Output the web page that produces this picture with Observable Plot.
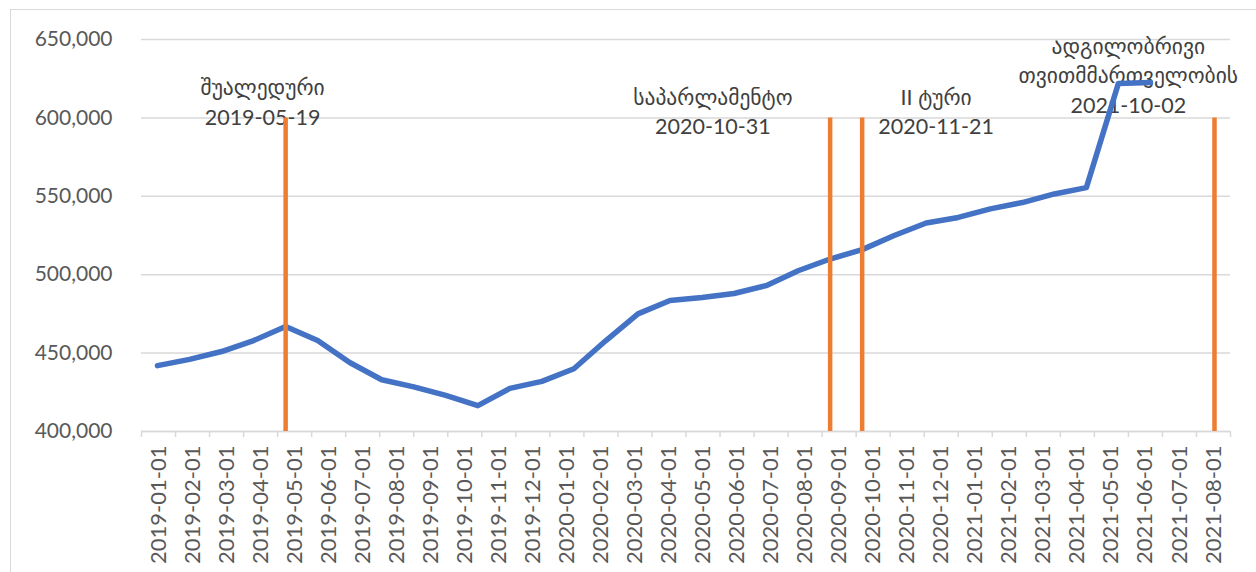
<!DOCTYPE html>
<html><head><meta charset="utf-8">
<script src="https://cdn.jsdelivr.net/npm/d3@7"></script>
<script src="https://cdn.jsdelivr.net/npm/@observablehq/plot@0.6"></script>
<style>
body{margin:0;background:#fff;overflow:hidden;width:1256px;height:572px;position:relative}
#frame{position:absolute;left:10px;top:9px;width:1300px;height:620px;border:1.5px solid #d9d9d9;box-sizing:border-box}
#chart{position:absolute;left:0;top:0}
</style></head><body>
<div id="frame"></div><div id="chart"></div>
<script>
// Category axis labels (primary axis)
const months = ["2019-01-01","2019-02-01","2019-03-01","2019-04-01","2019-05-01","2019-06-01","2019-07-01","2019-08-01","2019-09-01","2019-10-01","2019-11-01","2019-12-01","2020-01-01","2020-02-01","2020-03-01","2020-04-01","2020-05-01","2020-06-01","2020-07-01","2020-08-01","2020-09-01","2020-10-01","2020-11-01","2020-12-01","2021-01-01","2021-02-01","2021-03-01","2021-04-01","2021-05-01","2021-06-01","2021-07-01","2021-08-01"];
// Series values (estimated)
const voters = [442000,446000,451000,458000,467000,458000,444000,433000,428500,423000,416500,427500,432000,440000,458000,475000,483500,485500,488000,493000,502500,510000,516000,525000,533000,536500,542000,546000,551500,555500,622000,622500];
// Election events
const eventNames = ["შუალედური","საპარლამენტო","II ტური","ადგილობრივი\nთვითმმართველობის"];
const eventDates = ["2019-05-19","2020-10-31","2020-11-21","2021-10-02"];
const eventMonths = ["2019-05-01","2020-10-01","2020-11-01","2021-10-01"];
const eventTop = [600000,600000,600000,600000];
// Annotation label anchors (in timeline-slot units and value units)
const labelX = [3.78,17.84,24.81,30.81];
const labelY = [611000,605000,605000,628000];
const yTicks = [400000,450000,500000,550000,600000,650000];

// secondary (date) timeline runs from the first month through the last event month
const timeline = d3.utcMonth.range(new Date(Date.UTC(2019,0,1)), new Date(Date.UTC(2021,10,1))).map(d3.utcFormat("%Y-%m-%d"));
const nSlots = timeline.length;
const slot = m => timeline.indexOf(m) + 0.5;
const catCenter = months.map((m, i) => (i + 0.5) * nSlots / months.length);
const catEdges = d3.range(months.length + 1).map(i => i * nSlots / months.length);

const series = months.map((m, i) => ({x: slot(m), y: voters[i]}));
const events = eventNames.map((n, i) => ({
  x: slot(eventMonths[i]), top: eventTop[i],
  lx: labelX[i], ly: labelY[i], text: n + "\n" + eventDates[i]
}));

const plot = Plot.plot({
  width: 1256, height: 572,
  marginLeft: 141, marginRight: 26, marginTop: 39, marginBottom: 141,
  style: {fontFamily: "Lato, 'DejaVu Sans', sans-serif", background: "transparent"},
  x: {type: "linear", domain: [0, nSlots]},
  y: {domain: [400000, 650000]},
  marks: [
    Plot.gridY(yTicks, {stroke: "#d9d9d9", strokeOpacity: 1, strokeWidth: 1.5}),
    Plot.ruleY([400000], {stroke: "#d9d9d9", strokeWidth: 1.5}),
    Plot.axisY(yTicks, {tickSize: 0, tickPadding: 29, tickFormat: d3.format(","), fontSize: 21, fill: "#595959", label: null}),
    Plot.axisX(catEdges, {tickSize: 6, tickFormat: () => "", stroke: "#d9d9d9", strokeWidth: 1.5, label: null}),
    Plot.axisX(catCenter, {tickSize: 0, tickPadding: 14, tickRotate: -90, fontSize: 22, fill: "#595959", label: null,
      tickFormat: d => months[Math.round(d * months.length / nSlots - 0.5)]}),
    Plot.text(events, {x: "lx", y: "ly", text: "text", lineAnchor: "middle", lineHeight: 1.38, fontSize: 21.5, fill: "#404040"}),
    Plot.line(series, {x: "x", y: "y", stroke: "#4472C4", strokeWidth: 5.5, strokeLinecap: "round", strokeLinejoin: "round"}),
    Plot.ruleX(events, {x: "x", y1: 400000, y2: "top", stroke: "#ED7D31", strokeWidth: 4.5})
  ]
});
document.getElementById("chart").appendChild(plot);
</script>
</body></html>
